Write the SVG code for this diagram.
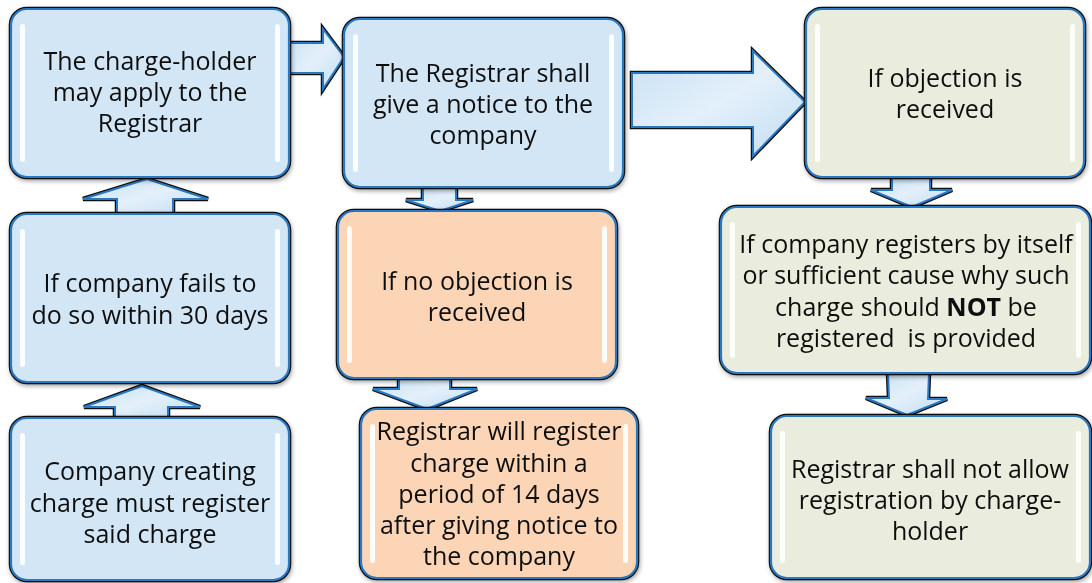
<svg xmlns="http://www.w3.org/2000/svg" width="1092" height="583" viewBox="0 0 1092 583">
<defs>
<style>
.ol{fill:none;stroke:#111;stroke-width:4.5;stroke-linejoin:round}
.bl{stroke:#2a78c2;stroke-width:2.2;stroke-linejoin:round}
.blue{fill:#d3e6f5}
.orange{fill:#fbd5b5}
.green{fill:#eaecdd}
.hl{fill:#ffffff;opacity:0.9}
.arr{fill:url(#ag);stroke:#2a78c2;stroke-width:2;stroke-linejoin:miter}
.arro{fill:none;stroke:#111;stroke-width:4.5;stroke-linejoin:miter}
text{font-family:"Open Sans","Noto Sans","DejaVu Sans",sans-serif;font-size:25px;fill:#111;text-anchor:middle}
</style>
<linearGradient id="ag" x1="0" y1="0" x2="1" y2="1">
<stop offset="0" stop-color="#c7e0f4"/>
<stop offset="0.5" stop-color="#e3f0fa"/>
<stop offset="1" stop-color="#c2dcf2"/>
</linearGradient>
<filter id="sh" x="-5%" y="-5%" width="115%" height="115%">
<feGaussianBlur in="SourceAlpha" stdDeviation="2"/>
<feOffset dx="1" dy="2"/>
<feComponentTransfer><feFuncA type="linear" slope="0.35"/></feComponentTransfer>
<feMerge><feMergeNode/><feMergeNode in="SourceGraphic"/></feMerge>
</filter>
</defs>

<g id="connectors">
<path class="arro" d="M289,43 H323 V29 L344,57 L323,89 V73 H289 Z"/>
<path class="arr" d="M289,43 H323 V29 L344,57 L323,89 V73 H289 Z"/>
<path class="arro" d="M632,73 H753 V51 L805,102 L753,156 V127 H632 Z"/>
<path class="arr" d="M632,73 H753 V51 L805,102 L753,156 V127 H632 Z"/>
<path class="arro" d="M423,187 V200 H406 L440,211 L473,200 H456 V187 Z"/>
<path class="arr" d="M423,187 V200 H406 L440,211 L473,200 H456 V187 Z"/>
<path class="arro" d="M117,214 V199 H83 L147,179 L208,199 H173 V214 Z"/>
<path class="arr" d="M117,214 V199 H83 L147,179 L208,199 H173 V214 Z"/>
<path class="arro" d="M115,418 V407 H84 L142,386 L200,407 H168 V418 Z"/>
<path class="arr" d="M115,418 V407 H84 L142,386 L200,407 H168 V418 Z"/>
<path class="arro" d="M399,378 V389 H373 L427,409 L477,389 H450 V378 Z"/>
<path class="arr" d="M399,378 V389 H373 L427,409 L477,389 H450 V378 Z"/>
<path class="arro" d="M892,177 V190 H871 L912,207 L952,190 H930 V177 Z"/>
<path class="arr" d="M892,177 V190 H871 L912,207 L952,190 H930 V177 Z"/>
<path class="arro" d="M888,373 L889,398 H866 L907,415 L947,399 H928 L929,373 Z"/>
<path class="arr" d="M888,373 L889,398 H866 L907,415 L947,399 H928 L929,373 Z"/>
</g>

<g id="n1" filter="url(#sh)">
<rect class="ol" x="11" y="9" width="278" height="168" rx="16"/>
<rect class="blue bl" x="11" y="9" width="278" height="168" rx="16"/>
<rect class="hl" x="20" y="24" width="5" height="138" rx="2.5"/>
<rect class="hl" x="275" y="24" width="5" height="138" rx="2.5"/>
<text x="150" y="70">The charge-holder</text>
<text x="150" y="101">may apply to the</text>
<text x="150" y="132">Registrar</text>
</g>

<g id="n2" filter="url(#sh)">
<rect class="ol" x="344" y="19" width="279" height="168" rx="16"/>
<rect class="blue bl" x="344" y="19" width="279" height="168" rx="16"/>
<rect class="hl" x="353" y="34" width="5" height="138" rx="2.5"/>
<rect class="hl" x="609" y="34" width="5" height="138" rx="2.5"/>
<text x="483" y="82">The Registrar shall</text>
<text x="483" y="113">give a notice to the</text>
<text x="483" y="144">company</text>
</g>

<g id="n3" filter="url(#sh)">
<rect class="ol" x="806" y="9" width="278" height="168" rx="16"/>
<rect class="green bl" x="806" y="9" width="278" height="168" rx="16"/>
<rect class="hl" x="815" y="24" width="5" height="138" rx="2.5"/>
<rect class="hl" x="1070" y="24" width="5" height="138" rx="2.5"/>
<text x="945" y="87">If objection is</text>
<text x="945" y="118">received</text>
</g>

<g id="n4" filter="url(#sh)">
<rect class="ol" x="11" y="214" width="278" height="168" rx="16"/>
<rect class="blue bl" x="11" y="214" width="278" height="168" rx="16"/>
<rect class="hl" x="20" y="229" width="5" height="138" rx="2.5"/>
<rect class="hl" x="275" y="229" width="5" height="138" rx="2.5"/>
<text x="150" y="292">If company fails to</text>
<text x="150" y="324">do so within 30 days</text>
</g>

<g id="n5" filter="url(#sh)">
<rect class="ol" x="11" y="418" width="278" height="162" rx="16"/>
<rect class="blue bl" x="11" y="418" width="278" height="162" rx="16"/>
<rect class="hl" x="20" y="433" width="5" height="132" rx="2.5"/>
<rect class="hl" x="275" y="433" width="5" height="132" rx="2.5"/>
<text x="150" y="480">Company creating</text>
<text x="150" y="512">charge must register</text>
<text x="150" y="543">said charge</text>
</g>

<g id="n6" filter="url(#sh)">
<rect class="ol" x="338" y="211" width="278" height="167" rx="16"/>
<rect class="orange bl" x="338" y="211" width="278" height="167" rx="16"/>
<rect class="hl" x="347" y="226" width="5" height="137" rx="2.5"/>
<rect class="hl" x="602" y="226" width="5" height="137" rx="2.5"/>
<text x="477" y="290">If no objection is</text>
<text x="477" y="321">received</text>
</g>

<g id="n7" filter="url(#sh)">
<rect class="ol" x="361" y="409" width="276" height="169" rx="16"/>
<rect class="orange bl" x="361" y="409" width="276" height="169" rx="16"/>
<rect class="hl" x="370" y="424" width="5" height="139" rx="2.5"/>
<rect class="hl" x="623" y="424" width="5" height="139" rx="2.5"/>
<text x="499" y="440">Registrar will register</text>
<text x="499" y="472">charge within a</text>
<text x="499" y="503">period of 14 days</text>
<text x="499" y="534">after giving notice to</text>
<text x="499" y="565">the company</text>
</g>

<g id="n8" filter="url(#sh)">
<rect class="ol" x="721" y="207" width="369" height="166" rx="16"/>
<rect class="green bl" x="721" y="207" width="369" height="166" rx="16"/>
<rect class="hl" x="730" y="222" width="5" height="136" rx="2.5"/>
<rect class="hl" x="1076" y="222" width="5" height="136" rx="2.5"/>
<text x="906" y="253">If company registers by itself</text>
<text x="906" y="284">or sufficient cause why such</text>
<text x="906" y="316">charge should <tspan font-weight="bold">NOT</tspan> be</text>
<text x="906" y="347" xml:space="preserve">registered  is provided</text>
</g>

<g id="n9" filter="url(#sh)">
<rect class="ol" x="771" y="416" width="319" height="162" rx="16"/>
<rect class="green bl" x="771" y="416" width="319" height="162" rx="16"/>
<rect class="hl" x="780" y="431" width="5" height="132" rx="2.5"/>
<rect class="hl" x="1076" y="431" width="5" height="132" rx="2.5"/>
<text x="930" y="478">Registrar shall not allow</text>
<text x="930" y="509">registration by charge-</text>
<text x="930" y="540">holder</text>
</g>
</svg>
